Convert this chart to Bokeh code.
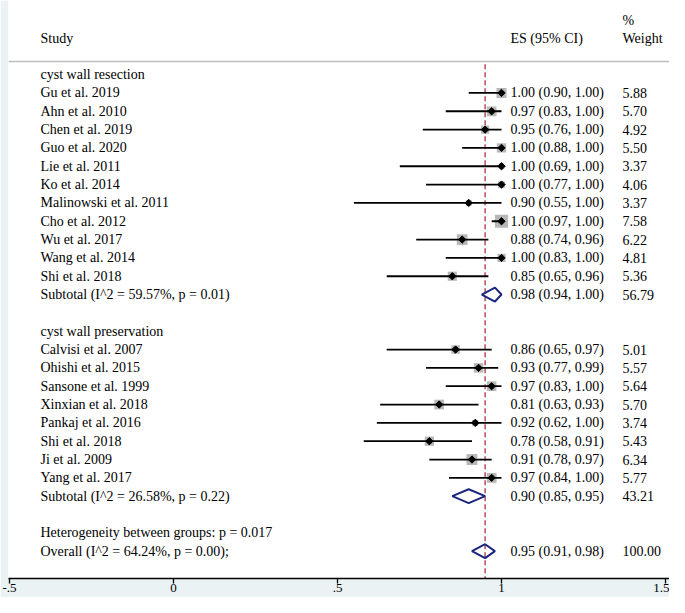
import numpy as np
from bokeh.plotting import figure
from bokeh.models import Range1d, ColumnDataSource, FixedTicker, Span
from bokeh.core.properties import value
from bokeh.embed import file_html
from bokeh.resources import INLINE

# ---------------- data ----------------
group1_title = "cyst wall resection"
group1_studies = ["Gu et al. 2019", "Ahn et al. 2010", "Chen et al. 2019", "Guo et al. 2020",
                  "Lie et al. 2011", "Ko et al. 2014", "Malinowski et al. 2011", "Cho et al. 2012",
                  "Wu et al. 2017", "Wang et al. 2014", "Shi et al. 2018"]
group1_es = [1.00, 0.97, 0.95, 1.00, 1.00, 1.00, 0.90, 1.00, 0.88, 1.00, 0.85]
group1_lo = [0.90, 0.83, 0.76, 0.88, 0.69, 0.77, 0.55, 0.97, 0.74, 0.83, 0.65]
group1_hi = [1.00, 1.00, 1.00, 1.00, 1.00, 1.00, 1.00, 1.00, 0.96, 1.00, 0.96]
group1_w = [5.88, 5.70, 4.92, 5.50, 3.37, 4.06, 3.37, 7.58, 6.22, 4.81, 5.36]
group1_sub_label = "Subtotal  (I^2 = 59.57%, p = 0.01)"
group1_sub = [0.98, 0.94, 1.00, 56.79]

group2_title = "cyst wall preservation"
group2_studies = ["Calvisi et al. 2007", "Ohishi et al. 2015", "Sansone et al. 1999",
                  "Xinxian et al. 2018", "Pankaj et al. 2016", "Shi et al. 2018",
                  "Ji et al. 2009", "Yang et al. 2017"]
group2_es = [0.86, 0.93, 0.97, 0.81, 0.92, 0.78, 0.91, 0.97]
group2_lo = [0.65, 0.77, 0.83, 0.63, 0.62, 0.58, 0.78, 0.84]
group2_hi = [0.97, 0.99, 1.00, 0.93, 1.00, 0.91, 0.97, 1.00]
group2_w = [5.01, 5.57, 5.64, 5.70, 3.74, 5.43, 6.34, 5.77]
group2_sub_label = "Subtotal  (I^2 = 26.58%, p = 0.22)"
group2_sub = [0.90, 0.85, 0.95, 43.21]

heterogeneity_label = "Heterogeneity between groups: p = 0.017"
overall_label = "Overall  (I^2 = 64.24%, p = 0.00);"
overall = [0.95, 0.91, 0.98, 100.00]

x_ticks = [-0.5, 0, 0.5, 1, 1.5]
x_tick_labels = ["-.5", "0", ".5", "1", "1.5"]

# ---------------- layout helpers (pixel positions in the picture) ----------------
W, H = 669, 597
FRAME_LEFT_PX = 8
X0_PX, UNIT_PX = 173.0, 328.0          # px of x=0, px per unit
ROW0_PX, ROW_PX = 74.1, 18.33           # px of row 0, px per row
FRAME_BOTTOM_PX = 578.0                 # px of the axis line


def px_to_x(px):
    return (px - X0_PX) / UNIT_PX


def px_to_row(py):
    return (py - ROW0_PX) / ROW_PX


# build rows
labels, rows = [], []
st_rows, st_es, st_lo, st_hi, st_w = [], [], [], [], []
sub_rows, sub_vals = [], []
r = 0
for title, studies, es, lo, hi, w, sl, sv in [
        (group1_title, group1_studies, group1_es, group1_lo, group1_hi, group1_w, group1_sub_label, group1_sub),
        (group2_title, group2_studies, group2_es, group2_lo, group2_hi, group2_w, group2_sub_label, group2_sub)]:
    labels.append(title); rows.append(r); r += 1
    for s, e, l, h, ww in zip(studies, es, lo, hi, w):
        labels.append(s); rows.append(r)
        st_rows.append(r); st_es.append(e); st_lo.append(l); st_hi.append(h); st_w.append(ww)
        r += 1
    labels.append(sl); rows.append(r)
    sub_rows.append(r); sub_vals.append(sv)
    r += 2
labels.append(heterogeneity_label); rows.append(r); r += 1
labels.append(overall_label); rows.append(r)
sub_rows.append(r); sub_vals.append(overall)

FONT = value("Liberation Serif")

p = figure(width=W, height=H, output_backend="svg", toolbar_location=None,
           x_range=Range1d(px_to_x(FRAME_LEFT_PX), px_to_x(W)),
           y_range=Range1d(px_to_row(FRAME_BOTTOM_PX), px_to_row(0)),
           y_axis_location=None, min_border_left=FRAME_LEFT_PX, min_border_right=0,
           min_border_top=0, min_border_bottom=int(H - FRAME_BOTTOM_PX))
p.background_fill_color = "white"
p.border_fill_color = "#eaf2f3"
p.outline_line_color = None
p.xgrid.visible = False
p.ygrid.visible = False

ax = p.xaxis[0]
ax.ticker = FixedTicker(ticks=x_ticks)
ax.major_label_overrides = {t: l for t, l in zip(x_ticks, x_tick_labels)}
ax.minor_tick_line_color = None
ax.major_tick_in = 0
ax.major_tick_out = 5
ax.major_label_standoff = 0
ax.axis_line_color = "black"
ax.axis_line_width = 1.3
ax.major_tick_line_width = 1.3
ax.major_label_text_font = "Liberation Serif"
ax.major_label_text_font_size = "13px"
ax.major_label_text_color = "black"

# header separator
sep_row = px_to_row(61.0)
p.add_layout(Span(location=sep_row, dimension="width", line_color="#bdbdbd", line_width=1.6))

# overall effect dashed line
p.segment(x0=[overall[0]], x1=[overall[0]], y0=[sep_row + 0.15], y1=[px_to_row(FRAME_BOTTOM_PX)],
          line_color="#a83240", line_width=1.3, line_dash="5 3")

# study boxes, CI lines, points
src = ColumnDataSource(dict(y=st_rows, es=st_es, lo=st_lo, hi=st_hi,
                            size=[1.85 * w - 0.8 for w in st_w]))
p.scatter(x="es", y="y", size="size", marker="square", source=src,
          fill_color="#b8b8b8", line_color=None)
p.segment(x0="lo", x1="hi", y0="y", y1="y", source=src, line_color="black", line_width=1.8)
p.scatter(x="es", y="y", size=5.2, marker="square", angle=np.pi / 4, source=src,
          fill_color="black", line_color="black")

# subtotal / overall diamonds
h = 0.38
xs, ys = [], []
for rr, v in zip(sub_rows, sub_vals):
    xs.append([v[1], v[0], v[2], v[0]])
    ys.append([rr, rr - h, rr, rr + h])
p.patches(xs=xs, ys=ys, fill_color=None, line_color="#1c2580", line_width=2)

# text columns
x_lab = px_to_x(40)
x_es = px_to_x(510)
x_wt = px_to_x(622)

es_rows = st_rows + sub_rows
es_vals = list(zip(st_es, st_lo, st_hi, st_w)) + [tuple(v) for v in sub_vals]
es_text = [f"{e:.2f} ({l:.2f}, {hh:.2f})" for e, l, hh, _ in es_vals]
wt_text = [f"{ww:.2f}" for _, _, _, ww in es_vals]

common = dict(text_font=FONT, text_font_size="14px", text_color="black",
              text_align="left", text_baseline="middle")
p.text(x=[x_lab] * len(labels), y=rows, text=labels, **common)
p.text(x=[x_es] * len(es_rows), y=es_rows, text=es_text, **common)
p.text(x=[x_wt] * len(es_rows), y=es_rows, text=wt_text, **common)

# headers
p.text(x=[x_lab, x_es, x_wt], y=[px_to_row(38)] * 3, text=["Study", "ES (95% CI)", "Weight"], **common)
p.text(x=[x_wt], y=[px_to_row(20)], text=["%"], **common)

open("out.html", "w").write(file_html(p, INLINE))
